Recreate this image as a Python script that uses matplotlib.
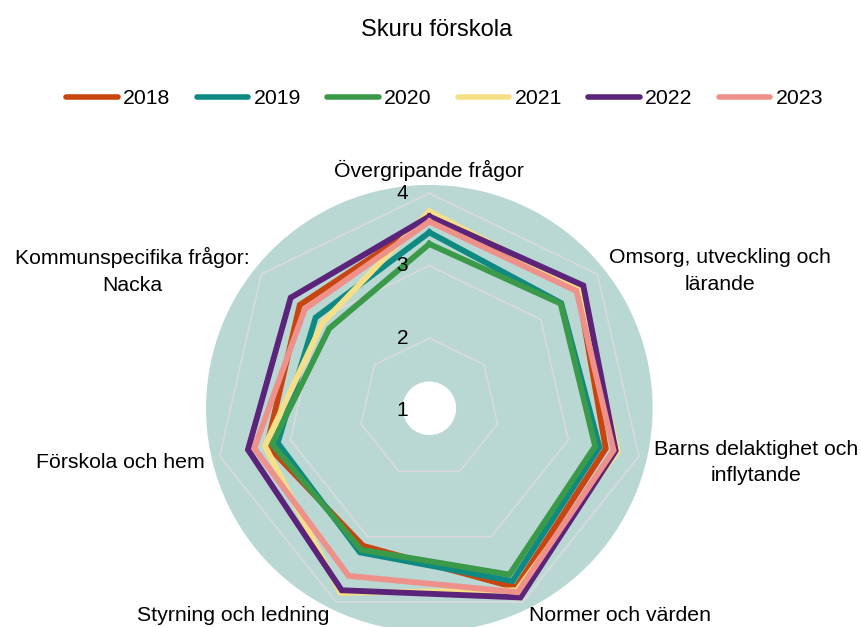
import numpy as np
import matplotlib
matplotlib.use("Agg")
import matplotlib.pyplot as plt
from matplotlib.lines import Line2D
from matplotlib.patches import Circle

plt.rcParams['font.family'] = ['Liberation Sans', 'DejaVu Sans']

# Categories (clockwise from the top)
categories = [
    "Övergripande frågor",
    "Omsorg, utveckling och\nlärande",
    "Barns delaktighet och\ninflytande",
    "Normer och värden",
    "Styrning och ledning",
    "Förskola och hem",
    "Kommunspecifika frågor:\nNacka",
]

years = ["2018", "2019", "2020", "2021", "2022", "2023"]

values_2018 = [3.64, 3.66, 3.53, 3.78, 3.14, 3.33, 3.32]
values_2019 = [3.46, 3.36, 3.44, 3.68, 3.24, 3.18, 3.04]
values_2020 = [3.30, 3.35, 3.38, 3.58, 3.20, 3.26, 2.80]
values_2021 = [3.75, 3.68, 3.70, 3.82, 3.86, 3.36, 2.92]
values_2022 = [3.68, 3.75, 3.67, 3.93, 3.82, 3.60, 3.48]
values_2023 = [3.61, 3.63, 3.64, 3.85, 3.60, 3.51, 3.23]

tick_values = [1, 2, 3, 4]

colors = ["#c8450f", "#0e8a82", "#3a9a4a", "#f6df86", "#5c237a", "#ef918b"]
all_values = [values_2018, values_2019, values_2020, values_2021, values_2022, values_2023]

r_min = 1.034
r_max = 4.114

fig = plt.figure(figsize=(8.61, 6.27), dpi=100)
ax = fig.add_axes([0.2393, -0.0073, 0.5187, 0.7123], projection="polar")
ax.set_theta_zero_location("N")
ax.set_theta_direction(-1)
ax.set_ylim(r_min, r_max)
ax.set_facecolor("#b9d8d4")
ax.grid(False)
ax.set_xticks([])
ax.set_yticks([])
ax.spines["polar"].set_visible(False)

n = len(categories)
angles = np.arange(n) * 2 * np.pi / n
angles_closed = np.append(angles, angles[0])

# white hole in the middle
ax.add_patch(Circle((0.5, 0.5), 0.06, transform=ax.transAxes,
                    facecolor="white", edgecolor="none", zorder=1))

# polygon grid lines
for v in tick_values[1:]:
    ax.plot(angles_closed, [v] * (n + 1), color="#dadada", lw=1.2, zorder=2)

# radial tick labels
for v in tick_values:
    if v < r_min:
        ax.annotate(str(v), xy=(0, r_min), xytext=(-27, -2), textcoords="offset pixels",
                    ha="center", va="center", fontsize=15, zorder=6)
    else:
        ax.annotate(str(v), xy=(0, v), xytext=(-27, 0), textcoords="offset pixels",
                    ha="center", va="center", fontsize=15, zorder=6)

# data lines
for vals, col in zip(all_values, colors):
    ax.plot(angles_closed, vals + vals[:1], color=col, lw=4.2,
            solid_joinstyle="miter", zorder=3)

# category labels
has = ["center", "left", "left", "left", "right", "right", "right"]
dys = [0, -6, -3, 0, 0, -3, -6]
for ang, lab, ha, dy in zip(angles, categories, has, dys):
    if ha == "center":
        ax.text(ang, 4.317, lab, ha="center", va="center", fontsize=15.3)
    else:
        ax.annotate(lab, xy=(ang, 4.207), xytext=(0, dy), textcoords="offset pixels",
                    ha=ha, va="center", fontsize=15.3, annotation_clip=False,
                    multialignment="center", linespacing=1.5)

fig.text(0.507, 1 - 30 / 627, "Skuru förskola", ha="center", va="center", fontsize=17)

handles = [Line2D([], [], color=c, lw=4, solid_capstyle="round") for c in colors]
fig.legend(handles, years, loc="center", bbox_to_anchor=(0.5166, 1 - 99 / 627),
           ncol=6, frameon=False, fontsize=15.3, handlelength=2.42,
           handletextpad=0.25, columnspacing=1.24)

fig.savefig("out.png", dpi=100)
